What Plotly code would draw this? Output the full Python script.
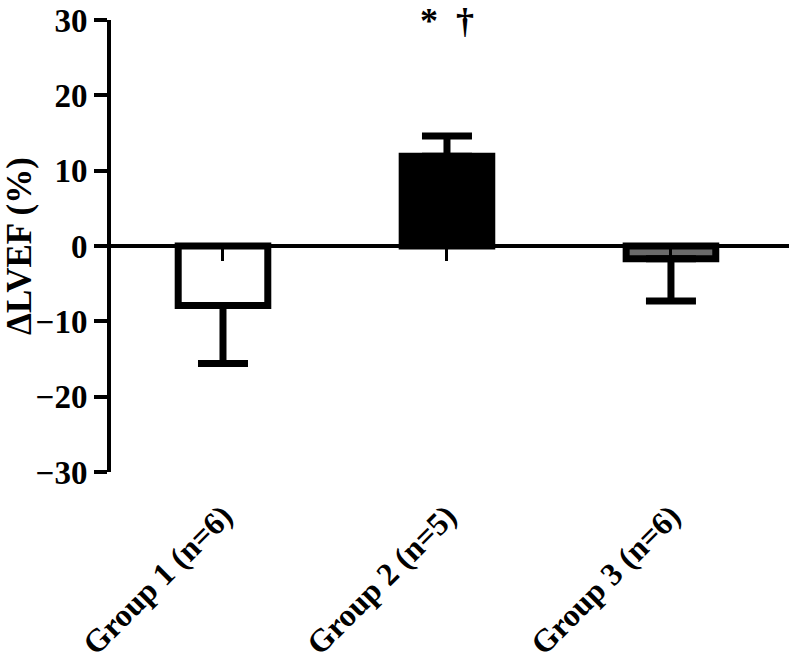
import plotly.graph_objects as go

categories = ["Group 1 (n=6)", "Group 2 (n=5)", "Group 3 (n=6)"]
means = [-7.9, 11.9, -1.7]
err_up = [0, 2.7, 0]
err_down = [7.7, 0, 5.6]
fills = ["white", "black", "#6a6a6a"]
y_ticks = [-30, -20, -10, 0, 10, 20, 30]
y_min, y_max = -30, 30
sig_label = "*  †"

FONT = "Liberation Serif"
W, H = 789, 664
M_T, M_B, M_L = 20, 192, 111
plot_h = H - M_T - M_B

fig = go.Figure()
fig.add_trace(go.Bar(
    x=categories, y=means, width=0.40,
    marker=dict(color=fills, line=dict(color="black", width=7)),
    error_y=dict(type="data", symmetric=False, array=err_up, arrayminus=err_down,
                 color="black", thickness=7, width=25),
    showlegend=False, xaxis="x", yaxis="y",
))
# invisible trace to carry the zero-line category tick marks
fig.add_trace(go.Scatter(x=categories, y=[None] * len(categories), xaxis="x2", yaxis="y",
                         showlegend=False, hoverinfo="skip"))

fig.add_annotation(x=categories[1], y=1 + M_T / plot_h, xref="x", yref="paper",
                   text="<b>" + sig_label + "</b>", borderpad=0,
                   showarrow=False, font=dict(family=FONT, size=36, color="black"),
                   yanchor="top")

fig.update_layout(
    width=W, height=H,
    margin=dict(l=M_L, r=0, t=M_T, b=M_B),
    plot_bgcolor="white", paper_bgcolor="white",
    font=dict(family=FONT, color="black"),
    xaxis=dict(range=[-0.5, 2.527], showline=False, ticks="", showgrid=False, zeroline=False,
               tickangle=-45, ticklabelstandoff=18, automargin=False,
               tickfont=dict(family=FONT, size=32, color="black", weight="bold")),
    xaxis2=dict(overlaying="x", matches="x", anchor="free", position=0.5, side="bottom",
                showline=False, showgrid=False, zeroline=False, showticklabels=False,
                ticks="outside", ticklen=14, tickwidth=3, tickcolor="black", automargin=False),
    yaxis=dict(range=[y_min, y_max], tickvals=y_ticks, showline=True, linewidth=4, linecolor="black",
               ticks="outside", ticklen=13, tickwidth=4, tickcolor="black", showgrid=False,
               zeroline=True, zerolinecolor="black", zerolinewidth=4, automargin=False,
               tickfont=dict(family=FONT, size=33, color="black", weight="bold"),
               title=dict(text="<b>ΔLVEF (%)</b>", font=dict(family=FONT, size=35, color="black"),
                          standoff=2)),
)

fig.write_html("out.html", config={"displayModeBar": False},
               post_script="document.body.style.margin='0';document.body.style.overflow='hidden';")
